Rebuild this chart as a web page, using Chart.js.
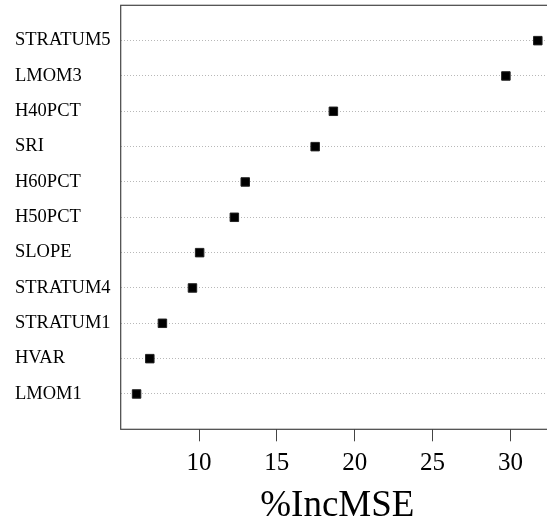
<!DOCTYPE html>
<html>
<head>
<meta charset="utf-8">
<script src="https://cdn.jsdelivr.net/npm/chart.js@4/dist/chart.umd.min.js"></script>
<style>
  html, body { margin: 0; padding: 0; background: #fff; overflow: hidden; }
  #holder { width: 547px; height: 523px; overflow: hidden; }
</style>
</head>
<body>
<div id="holder"><canvas id="chart" width="560" height="523"></canvas></div>
<script>
// Variables, top to bottom as in the plot
var variables = ['STRATUM5', 'LMOM3', 'H40PCT', 'SRI', 'H60PCT', 'H50PCT',
                 'SLOPE', 'STRATUM4', 'STRATUM1', 'HVAR', 'LMOM1'];
// %IncMSE for each variable
var incMSE = [31.76, 29.71, 18.63, 17.46, 12.97, 12.27, 10.04, 9.58, 7.65, 6.84, 5.99];
var xTicks = [10, 15, 20, 25, 30];

// dotchart style: row position 1 is the bottom row
var rowPos = variables.map(function(v, i) { return variables.length - i; });
var points = incMSE.map(function(v, i) { return { x: v, y: rowPos[i] }; });

var serif = '"Liberation Serif", "Times New Roman", serif';

// Draws the box round the plot region (its right side is cut off in the picture)
var framePlugin = {
    id: 'frame',
    afterDraw: function(chart) {
        var a = chart.chartArea, ctx = chart.ctx;
        ctx.save();
        ctx.strokeStyle = '#444';
        ctx.lineWidth = 1.2;
        ctx.strokeRect(a.left, a.top, a.right - a.left, a.bottom - a.top);
        ctx.restore();
    }
};

var ctx = document.getElementById('chart').getContext('2d');
var chart = new Chart(ctx, {
    type: 'scatter',
    data: {
        datasets: [{
            data: points,
            pointStyle: 'rect',
            pointRadius: 6,
            backgroundColor: '#000',
            borderColor: '#222',
            borderWidth: 1
        }]
    },
    options: {
        responsive: false,
        animation: false,
        devicePixelRatio: 1,
        layout: { autoPadding: false, padding: { left: 15, top: 5.3, right: 6, bottom: 0 } },
        plugins: { legend: { display: false }, tooltip: { enabled: false } },
        scales: {
            x: {
                type: 'linear',
                min: 4.97,
                max: 32.8,
                afterBuildTicks: function(scale) {
                    scale.ticks = xTicks.map(function(v) { return { value: v }; });
                },
                afterFit: function(scale) {
                    scale.height = 93.7;
                    scale.paddingLeft = 0;
                    scale.paddingRight = 0;
                },
                border: { display: false },
                grid: { drawOnChartArea: false, drawTicks: true, tickLength: 12, tickColor: '#444', tickWidth: 1 },
                ticks: { color: '#000', padding: 7, maxRotation: 0, font: { family: serif, size: 25 } },
                title: {
                    display: true,
                    text: '%IncMSE',
                    color: '#000',
                    font: { family: serif, size: 37, lineHeight: 1 },
                    padding: { top: 0, bottom: -2 }
                }
            },
            y: {
                type: 'linear',
                min: 0,
                max: 12,
                afterBuildTicks: function(scale) {
                    scale.ticks = rowPos.map(function(v) { return { value: v }; });
                },
                afterFit: function(scale) {
                    scale.width = 105.7;
                    scale.paddingTop = 0;
                    scale.paddingBottom = 0;
                },
                border: { display: false, dash: [1, 2] },
                grid: { color: '#b8b8b8', lineWidth: 1, drawTicks: false },
                ticks: {
                    color: '#000',
                    crossAlign: 'far',
                    font: { family: serif, size: 18.5 },
                    callback: function(value) {
                        return variables[variables.length - value];
                    }
                }
            }
        }
    },
    plugins: [framePlugin]
});
</script>
</body>
</html>
